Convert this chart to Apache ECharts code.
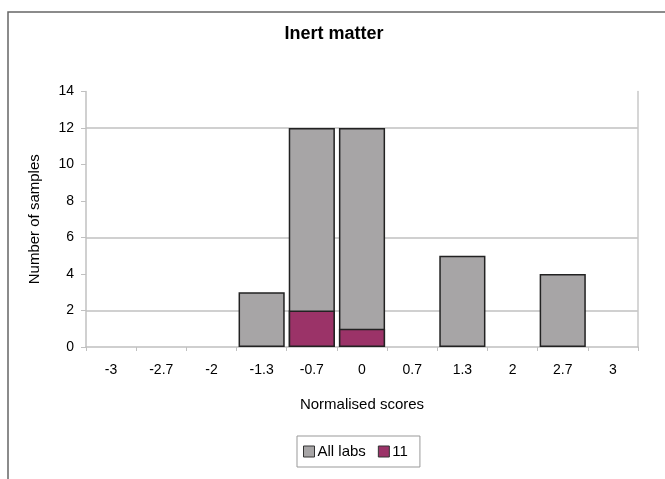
<!DOCTYPE html>
<html><head><meta charset="utf-8">
<script src="https://cdn.jsdelivr.net/npm/echarts@6/dist/echarts.min.js"></script>
<style>html,body{margin:0;padding:0;background:#fff}#c{width:665px;height:479px}</style>
</head><body><div id="c"></div>
<script>
const categories = ['-3','-2.7','-2','-1.3','-0.7','0','0.7','1.3','2','2.7','3'];
const allLabs = [0,0,0,3,12,12,0,5,0,4,0];
const lab11 = [0,0,0,0,2,1,0,0,0,0,0];
const gridValues = [2,6,12];
const FONT = '"Liberation Sans", Arial, sans-serif';
const nz = v => (v === 0 ? '-' : v);

const chart = echarts.init(document.getElementById('c'), null, {renderer:'canvas'});
chart.setOption({
  animation:false,
  backgroundColor:'#fff',
  graphic:[{type:'rect', silent:true, shape:{x:8,y:12,width:700,height:500}, style:{fill:'none', stroke:'#666', lineWidth:1.5}}],
  title:{text:'Inert matter', left:329, top:20, textAlign:'center',
    textStyle:{fontFamily:FONT, fontSize:18, fontWeight:'bold', color:'#000'}},
  legend:{data:['All labs','11'], left:297, top:436, orient:'horizontal',
    borderColor:'#999', borderWidth:1, padding:[8,12,8,6], itemGap:12,
    itemWidth:11, itemHeight:11, icon:'rect',
    itemStyle:{borderColor:'#333', borderWidth:1},
    textStyle:{fontFamily:FONT, fontSize:15, color:'#000', padding:[0,0,0,-2]}},
  grid:{left:86, right:27, top:91.5, bottom:132, containLabel:false},
  xAxis:{type:'category', data:categories, boundaryGap:true,
    name:'Normalised scores', nameLocation:'middle', nameGap:50,
    nameTextStyle:{fontFamily:FONT, fontSize:15, color:'#000'},
    axisLine:{lineStyle:{color:'#c0c0c0', width:1.5}},
    axisTick:{show:true, length:4, lineStyle:{color:'#c0c0c0'}},
    axisLabel:{fontFamily:FONT, fontSize:14, color:'#000', margin:16}},
  yAxis:[{type:'value', min:0, max:14, interval:2,
    name:'Number of samples', nameLocation:'middle', nameGap:44,
    nameTextStyle:{fontFamily:FONT, fontSize:15, color:'#000'},
    axisLine:{show:true, lineStyle:{color:'#c0c0c0', width:1.5}},
    axisTick:{show:true, length:5, lineStyle:{color:'#c0c0c0'}},
    axisLabel:{fontFamily:FONT, fontSize:14, color:'#000', margin:12},
    splitLine:{show:false}},
   {type:'value', min:0, max:14, interval:2, position:'right',
    axisLine:{show:true, lineStyle:{color:'#c8c8c8', width:1.5}},
    axisTick:{show:false}, axisLabel:{show:false}, splitLine:{show:false}}],
  series:[
    {name:'All labs', type:'bar', data:allLabs.map(nz), barCategoryGap:'8%', barGap:'-100%',
     itemStyle:{color:'#a7a5a6', borderColor:'#222', borderWidth:1.5},
     markLine:{silent:true, symbol:'none', label:{show:false}, z:0,
       lineStyle:{color:'#c0c0c0', width:1.5, type:'solid'},
       data:gridValues.map(v=>({yAxis:v}))}},
    {name:'11', type:'bar', data:lab11.map(nz), barCategoryGap:'8%', barGap:'-100%',
     itemStyle:{color:'#9b3368', borderColor:'#222', borderWidth:1.5}}
  ]
});
</script></body></html>
